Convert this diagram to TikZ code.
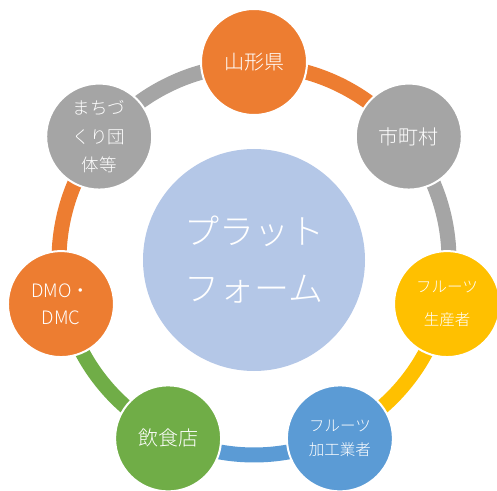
\documentclass[tikz,border=0pt]{standalone}
\usepackage{fontspec}
\newfontfamily\jp{Noto Sans CJK JP Light}
\usetikzlibrary{backgrounds}
\definecolor{cOrange}{HTML}{ED7D31}
\definecolor{cGray}{HTML}{A5A5A5}
\definecolor{cYellow}{HTML}{FFC000}
\definecolor{cBlue}{HTML}{5B9BD5}
\definecolor{cGreen}{HTML}{70AD47}
\definecolor{cCenter}{HTML}{B4C7E7}
\tikzset{
  ball/.style={circle, draw=white, line width=2pt, minimum size=106pt, inner sep=0pt,
    text=white, align=center},
  ringarc/.style={line width=15pt},
}
\begin{document}
\begin{tikzpicture}[x=1pt,y=1pt]
\useasboundingbox (0,0) rectangle (497,490);
\clip (0,0) rectangle (497,490);
\coordinate (C) at (254,230);
\node[circle, fill=cCenter, minimum size=222pt, inner sep=0pt, text=white, align=center,
  font={\jp\fontsize{35}{57}\selectfont}] (plat) at (C) {プラット\\フォーム};
\path (C) ++(90:198) node[ball, fill=cOrange, font={\jp\fontsize{20}{24}\selectfont}] (yama) {山形県};
\path (C) ++(38.57:198) node[ball, fill=cGray, font={\jp\fontsize{20}{24}\selectfont}] (shi) {市町村};
\path (C) ++(-12.86:198) node[ball, fill=cYellow, font={\jp\fontsize{15.5}{33}\selectfont}] (sei) {フルーツ\\生産者};
\path (C) ++(-64.29:198) node[ball, fill=cBlue, font={\jp\fontsize{15.5}{24}\selectfont}] (kako) {フルーツ\\加工業者};
\path (C) ++(-115.71:198) node[ball, fill=cGreen, font={\jp\fontsize{20}{24}\selectfont}] (inshoku) {飲食店};
\path (C) ++(-167.14:198) node[ball, fill=cOrange, font={\jp\fontsize{18.5}{27}\selectfont}] (dmo) {DMO・\\DMC};
\path (C) ++(141.43:198) node[ball, fill=cGray, font={\jp\fontsize{17.5}{28.5}\selectfont}] (machi) {まちづ\\くり団\\体等};
\begin{scope}[on background layer]
\draw[ringarc, cOrange] (C) ++(90:195) arc[start angle=90, end angle=38.57, radius=195pt];
\draw[ringarc, cGray] (C) ++(38.57:195) arc[start angle=38.57, end angle=-12.86, radius=195pt];
\draw[ringarc, cYellow] (C) ++(-12.86:195) arc[start angle=-12.86, end angle=-64.29, radius=195pt];
\draw[ringarc, cBlue] (C) ++(-64.29:195) arc[start angle=-64.29, end angle=-115.71, radius=195pt];
\draw[ringarc, cGreen] (C) ++(-115.71:195) arc[start angle=-115.71, end angle=-167.14, radius=195pt];
\draw[ringarc, cOrange] (C) ++(-167.14:195) arc[start angle=-167.14, end angle=-218.57, radius=195pt];
\draw[ringarc, cGray] (C) ++(141.43:195) arc[start angle=141.43, end angle=90, radius=195pt];
\end{scope}
\end{tikzpicture}
\end{document}
